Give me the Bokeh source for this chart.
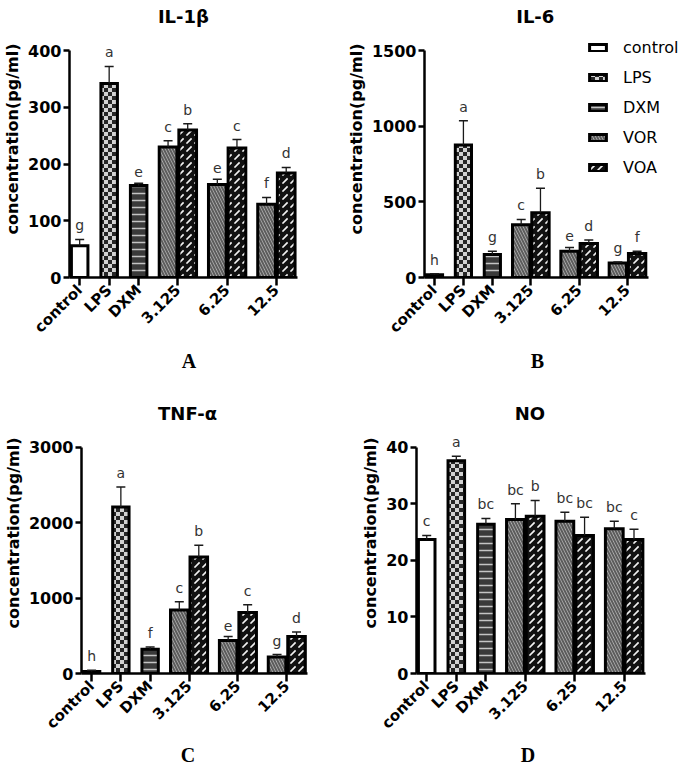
import math
from bokeh.plotting import figure
from bokeh.models import (Range1d, FixedTicker, Legend, LegendItem, Title,
                          ColumnDataSource, CanvasTexture)
from bokeh.layouts import row, column
from bokeh.core.properties import value
from bokeh.embed import file_html
from bokeh.resources import INLINE

# ---------------- data ----------------
groups = ["control", "LPS", "DXM"]
doses = ["3.125", "6.25", "12.5"]
series = ["control", "LPS", "DXM", "VOR", "VOA"]

il1b_groups = [56, 342, 162]
il1b_groups_sd = [11, 30, 4]
il1b_vor = [230, 164, 129]
il1b_vor_sd = [11, 9, 12]
il1b_voa = [260, 228, 184]
il1b_voa_sd = [11, 15, 10]
il1b_groups_sig = ["g", "a", "e"]
il1b_vor_sig = ["c", "e", "f"]
il1b_voa_sig = ["b", "c", "d"]
il1b_yticks = [0, 100, 200, 300, 400]

il6_groups = [18, 876, 152]
il6_groups_sd = [6, 159, 22]
il6_vor = [349, 174, 95]
il6_vor_sd = [35, 25, 7]
il6_voa = [428, 225, 158]
il6_voa_sd = [161, 22, 16]
il6_groups_sig = ["h", "a", "g"]
il6_vor_sig = ["c", "e", "g"]
il6_voa_sig = ["b", "d", "f"]
il6_yticks = [0, 500, 1000, 1500]

tnf_groups = [28, 2207, 321]
tnf_groups_sd = [14, 264, 31]
tnf_vor = [841, 436, 220]
tnf_vor_sd = [110, 53, 31]
tnf_voa = [1546, 810, 489]
tnf_voa_sd = [154, 102, 62]
tnf_groups_sig = ["h", "a", "f"]
tnf_vor_sig = ["c", "e", "g"]
tnf_voa_sig = ["b", "c", "d"]
tnf_yticks = [0, 1000, 2000, 3000]

no_groups = [23.7, 37.6, 26.4]
no_groups_sd = [0.7, 0.8, 1.0]
no_vor = [27.2, 26.9, 25.6]
no_vor_sd = [2.8, 1.6, 1.3]
no_voa = [27.8, 24.4, 23.7]
no_voa_sd = [2.8, 3.2, 1.8]
no_groups_sig = ["c", "a", "bc"]
no_vor_sig = ["bc", "bc", "bc"]
no_voa_sig = ["b", "bc", "c"]
no_yticks = [0, 10, 20, 30, 40]

y_label = "concentration(pg/ml)"

# ---------------- style / layout ----------------
FONT = "DejaVu Sans"
X_START, X_AXIS_END = -0.345, 7.38
PXU = 29.6                     # pixels per x unit
SINGLE_POS = [0.0, 1.0, 2.0]
DOSE_POS = [3.33, 5.0, 6.67]
HALF = 0.333
W_SINGLE = 0.56
W_GROUP = 0.60

checker = CanvasTexture(code="""
var c = ctx.canvas;
c.width = 8;
c.height = 8;
ctx.clearRect(0, 0, 8, 8);
ctx.fillStyle = '#262626';
ctx.fillRect(0, 0, 4, 4);
ctx.fillRect(4, 4, 4, 4);
""")

STYLES = {
    "control": dict(fill_color="white"),
    "LPS": dict(fill_color="#d2d2d2", hatch_pattern=value("checker"), hatch_color="#262626",
                hatch_scale=8, hatch_extra={"checker": checker}),
    "DXM": dict(fill_color="#3a3a3a", hatch_pattern="-", hatch_color="#c4c4c4",
                hatch_scale=7, hatch_weight=1.5),
    "VOR": dict(fill_color="#b8b8b8", hatch_pattern="\\", hatch_color="#5c5c5c",
                hatch_scale=6, hatch_weight=2),
    "VOA": dict(fill_color="#111111", hatch_pattern=",", hatch_color="#f2f2f2",
                hatch_scale=8, hatch_weight=1.6),
}


def make_panel(title, letter, g, g_sd, vor, vor_sd, voa, voa_sd,
               g_sig, vor_sig, voa_sig, yticks,
               width, height, left, bottom, tick_top, letter_standoff,
               title_dx=0, letter_dx=0, legend=None):
    ymax = yticks[-1]
    frame_h = height - bottom
    y_top = ymax * frame_h / (frame_h - tick_top)
    frame_w = width - left
    x_end = X_START + frame_w / PXU
    p = figure(width=width, height=height,
               x_range=Range1d(X_START, x_end), y_range=Range1d(0, y_top),
               output_backend="svg", toolbar_location=None, tools="",
               min_border_left=left, min_border_right=0,
               min_border_top=0, min_border_bottom=bottom)
    p.outline_line_color = None
    p.grid.visible = False
    p.background_fill_color = "white"
    p.border_fill_color = "white"

    renderers = {}
    for i, name in enumerate(groups):
        src = ColumnDataSource(dict(x=[SINGLE_POS[i]], top=[g[i]]))
        renderers[name] = p.vbar(x="x", top="top", width=W_SINGLE, bottom=0, source=src,
                                 line_color="black", line_width=3, line_join="miter",
                                 **STYLES[name])
    src_vor = ColumnDataSource(dict(x=[d - HALF for d in DOSE_POS], top=vor))
    renderers["VOR"] = p.vbar(x="x", top="top", width=W_GROUP, bottom=0, source=src_vor,
                              line_color="black", line_width=3, line_join="miter",
                              **STYLES["VOR"])
    src_voa = ColumnDataSource(dict(x=[d + HALF for d in DOSE_POS], top=voa))
    renderers["VOA"] = p.vbar(x="x", top="top", width=W_GROUP, bottom=0, source=src_voa,
                              line_color="black", line_width=3, line_join="miter",
                              **STYLES["VOA"])

    xs = SINGLE_POS + [d - HALF for d in DOSE_POS] + [d + HALF for d in DOSE_POS]
    tops = list(g) + list(vor) + list(voa)
    sds = list(g_sd) + list(vor_sd) + list(voa_sd)
    sigs = list(g_sig) + list(vor_sig) + list(voa_sig)
    caps = [t + s for t, s in zip(tops, sds)]
    err = ColumnDataSource(dict(x=xs, top=tops, cap=caps, sig=sigs))
    p.segment(x0="x", y0="top", x1="x", y1="cap", source=err,
              line_color="#1a1a1a", line_width=1.3)
    p.scatter(x="x", y="cap", source=err, marker="dash", size=9,
              line_color="#1a1a1a", line_width=1.5)
    p.text(x="x", y="cap", text="sig", source=err, text_align="center",
           text_baseline="bottom", y_offset=-6, text_font=value(FONT),
           text_font_size=value("14px"), text_color="#333333")

    # panel title (inside the frame, above the y axis end)
    mid = (X_START + X_AXIS_END) / 2
    tsrc = ColumnDataSource(dict(x=[mid], y=[ymax], t=[title]))
    p.text(x="x", y="y", text="t", source=tsrc, text_align="center",
           text_baseline="middle", x_offset=title_dx, y_offset=-34,
           text_font=value(FONT), text_font_style="bold",
           text_font_size=value("18px"), text_color="black")

    # axes
    yax = p.yaxis[0]
    yax.ticker = FixedTicker(ticks=yticks)
    yax.bounds = (0, ymax)
    yax.axis_label = y_label
    yax.axis_label_text_font = FONT
    yax.axis_label_text_font_style = "bold"
    yax.axis_label_text_font_size = "16px"
    yax.axis_label_text_color = "black"
    yax.axis_label_standoff = 3
    yax.major_label_text_font = FONT
    yax.major_label_text_font_style = "bold"
    yax.major_label_text_font_size = "16px"
    yax.major_label_text_color = "black"
    yax.major_label_standoff = 2
    yax.axis_line_width = 2.5
    yax.major_tick_line_width = 2.5
    yax.major_tick_out = 6
    yax.major_tick_in = 0
    yax.minor_tick_line_color = None

    xax = p.xaxis[0]
    xax.ticker = FixedTicker(ticks=SINGLE_POS + DOSE_POS)
    xax.bounds = (X_START, X_AXIS_END)
    overrides = {}
    for pos, name in zip(SINGLE_POS, groups):
        overrides[pos] = name
    for pos, name in zip(DOSE_POS, doses):
        overrides[pos] = name
    xax.major_label_overrides = overrides
    xax.major_label_orientation = math.pi / 4
    xax.major_label_text_font = FONT
    xax.major_label_text_font_style = "bold"
    xax.major_label_text_font_size = "15px"
    xax.major_label_text_color = "black"
    xax.major_label_standoff = 2
    xax.axis_line_width = 2.5
    xax.major_tick_line_width = 2.5
    xax.major_tick_out = 8
    xax.major_tick_in = 0
    xax.minor_tick_line_color = None

    # panel letter below the axis
    lt = Title(text=letter, align="left", offset=(mid - X_START) * PXU - 7 + letter_dx,
               standoff=letter_standoff, text_font="Liberation Serif",
               text_font_style="bold", text_font_size="20px", text_color="black")
    p.add_layout(lt, "below")

    if legend is not None:
        items = [LegendItem(label=s, renderers=[renderers[s]]) for s in series]
        lg = Legend(items=items, location=legend, orientation="vertical",
                    glyph_width=21, glyph_height=9, label_standoff=15,
                    label_text_font=FONT, label_text_font_size="16px",
                    label_text_color="black", label_height=20, spacing=10,
                    padding=0, margin=0, border_line_color=None,
                    background_fill_alpha=0)
        p.add_layout(lg)
    return p


pA = make_panel("IL-1β", "A", il1b_groups, il1b_groups_sd, il1b_vor, il1b_vor_sd,
                il1b_voa, il1b_voa_sd, il1b_groups_sig, il1b_vor_sig, il1b_voa_sig,
                il1b_yticks, 343, 392, 68, 115, 50, 4, title_dx=0, letter_dx=5)
pB = make_panel("IL-6", "B", il6_groups, il6_groups_sd, il6_vor, il6_vor_sd,
                il6_voa, il6_voa_sd, il6_groups_sig, il6_vor_sig, il6_voa_sig,
                il6_yticks, 342, 392, 75, 115, 50, 4, title_dx=-1, letter_dx=-1,
                legend=(163, 100))
pC = make_panel("TNF-α", "C", tnf_groups, tnf_groups_sd, tnf_vor, tnf_vor_sd,
                tnf_voa, tnf_voa_sd, tnf_groups_sig, tnf_vor_sig, tnf_voa_sig,
                tnf_yticks, 343, 374, 78, 93, 54.7, 0, title_dx=-7, letter_dx=-8)
pD = make_panel("NO", "D", no_groups, no_groups_sd, no_vor, no_vor_sd,
                no_voa, no_voa_sd, no_groups_sig, no_vor_sig, no_voa_sig,
                no_yticks, 342, 374, 73, 93, 54.7, 0, title_dx=-1, letter_dx=-3)

layout = column(row(pA, pB), row(pC, pD))
open("out.html", "w").write(file_html(layout, INLINE))
